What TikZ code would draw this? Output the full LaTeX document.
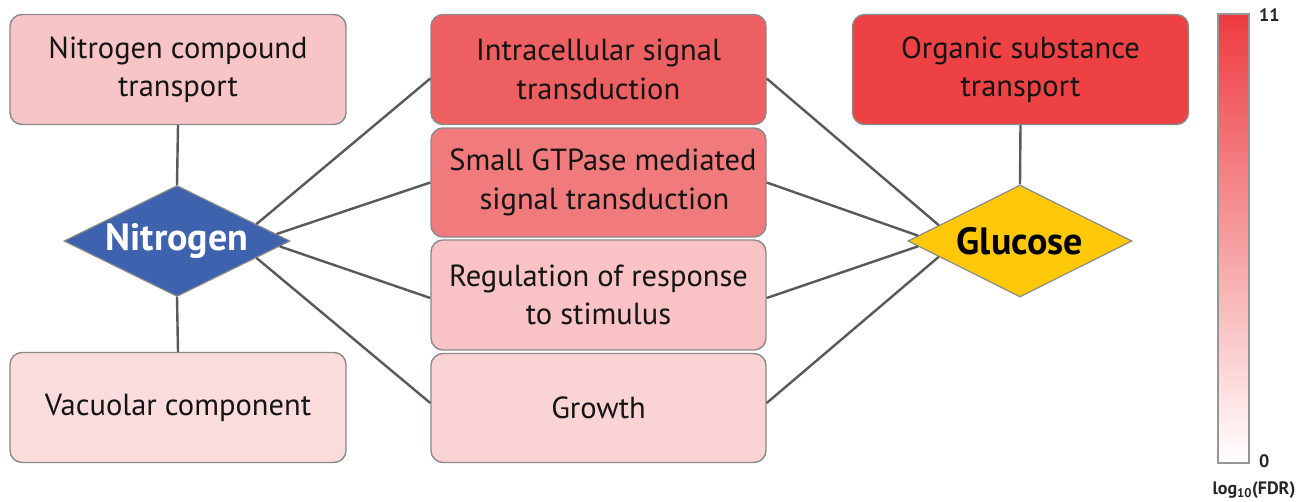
\documentclass[tikz,border=0pt]{standalone}
\usepackage{fontspec}
\setmainfont{PT Sans}
\usetikzlibrary{shapes.geometric,calc}
\definecolor{cNct}{HTML}{F8C5C7}
\definecolor{cVac}{HTML}{FBDCDD}
\definecolor{cInt}{HTML}{EE5F61}
\definecolor{cGtp}{HTML}{F07A7C}
\definecolor{cReg}{HTML}{F9C2C4}
\definecolor{cGro}{HTML}{FAD3D5}
\definecolor{cOrg}{HTML}{EE4144}
\definecolor{cNit}{HTML}{3E62AE}
\definecolor{cGlu}{HTML}{FFC90A}
\definecolor{cLine}{HTML}{58595B}
\definecolor{cBorder}{HTML}{8A8A8A}
\definecolor{cBar}{HTML}{EE3B3F}
\tikzset{
  termbox/.style={rectangle, rounded corners=12pt, draw=cBorder, line width=1.4pt,
    minimum width=336pt, minimum height=110pt, inner sep=0pt, align=center,
    font=\fontsize{30.5}{38.5}\selectfont, text=black!92},
  hub/.style={diamond, aspect=2.05, draw=cBorder, line width=1.2pt, inner sep=0pt,
    minimum width=226pt, minimum height=111pt, font=\bfseries\fontsize{38}{40}\selectfont},
  link/.style={draw=cLine, line width=2.4pt},
  barlabel/.style={font=\bfseries\fontsize{18}{20}\selectfont, text=black!85, inner sep=0pt}
}
\begin{document}
\begin{tikzpicture}[x=1pt,y=-1pt]
\useasboundingbox[fill=white] (0,0) rectangle (1299,501);
% left column
\node[termbox, fill=cNct] (nct) at (178,69.5) {Nitrogen compound\\transport};
\node[termbox, fill=cVac] (vac) at (178,407.5) {Vacuolar component};
% middle column
\node[termbox, fill=cInt, minimum width=335pt] (int) at (598.5,69.5) {Intracellular signal\\transduction};
\node[termbox, fill=cGtp, minimum width=335pt, minimum height=109pt] (gtp) at (598.5,182.5) {\hspace*{9pt}Small GTPase mediated\\\hspace*{12pt}signal transduction};
\node[termbox, fill=cReg, minimum width=335pt] (reg) at (598.5,295) {Regulation of response\\to stimulus};
\node[termbox, fill=cGro, minimum width=335pt, minimum height=109pt] (gro) at (598.5,408) {Growth};
% right column
\node[termbox, fill=cOrg] (org) at (1020.5,69.5) {Organic substance\\transport};
% hubs
\node[hub, fill=cNit, text=white] (nit) at (177,241) {Nitrogen};
\node[hub, fill=cGlu, text=black, minimum width=224pt, minimum height=112pt] (glu) at (1020,241) {Glucose};
% connectors
\draw[link] (nct.south) -- (nit.north);
\draw[link] (nit.south) -- (vac.north);
\draw[link] (org.south) -- (glu.north);
\draw[link] (nit.12) -- ($(int.west)+(0,9)$);
\draw[link] (nit.4) -- (gtp.west);
\draw[link] (nit.-3) -- ($(reg.west)+(0,3)$);
\draw[link] (nit.-12) -- ($(gro.west)+(0,-5)$);
\draw[link] (glu.169) -- ($(int.east)+(0,9)$);
\draw[link] (glu.177) -- (gtp.east);
\draw[link] (glu.183) -- ($(reg.east)+(0,3)$);
\draw[link] (glu.191) -- ($(gro.east)+(0,-5)$);
% colour bar
\node[rectangle, draw=cBorder!90, line width=1.4pt, top color=cBar, bottom color=white,
  minimum width=31pt, minimum height=449pt, inner sep=0pt] (bar) at (1233.5,238.5) {};
\node[barlabel, anchor=west] (tmax) at (1259,15) {11};
\node[barlabel, anchor=west] (tmin) at (1259,461) {0};
\node[barlabel] (tlab) at (1254,490) {log\textsubscript{10}(FDR)};
\end{tikzpicture}
\end{document}
